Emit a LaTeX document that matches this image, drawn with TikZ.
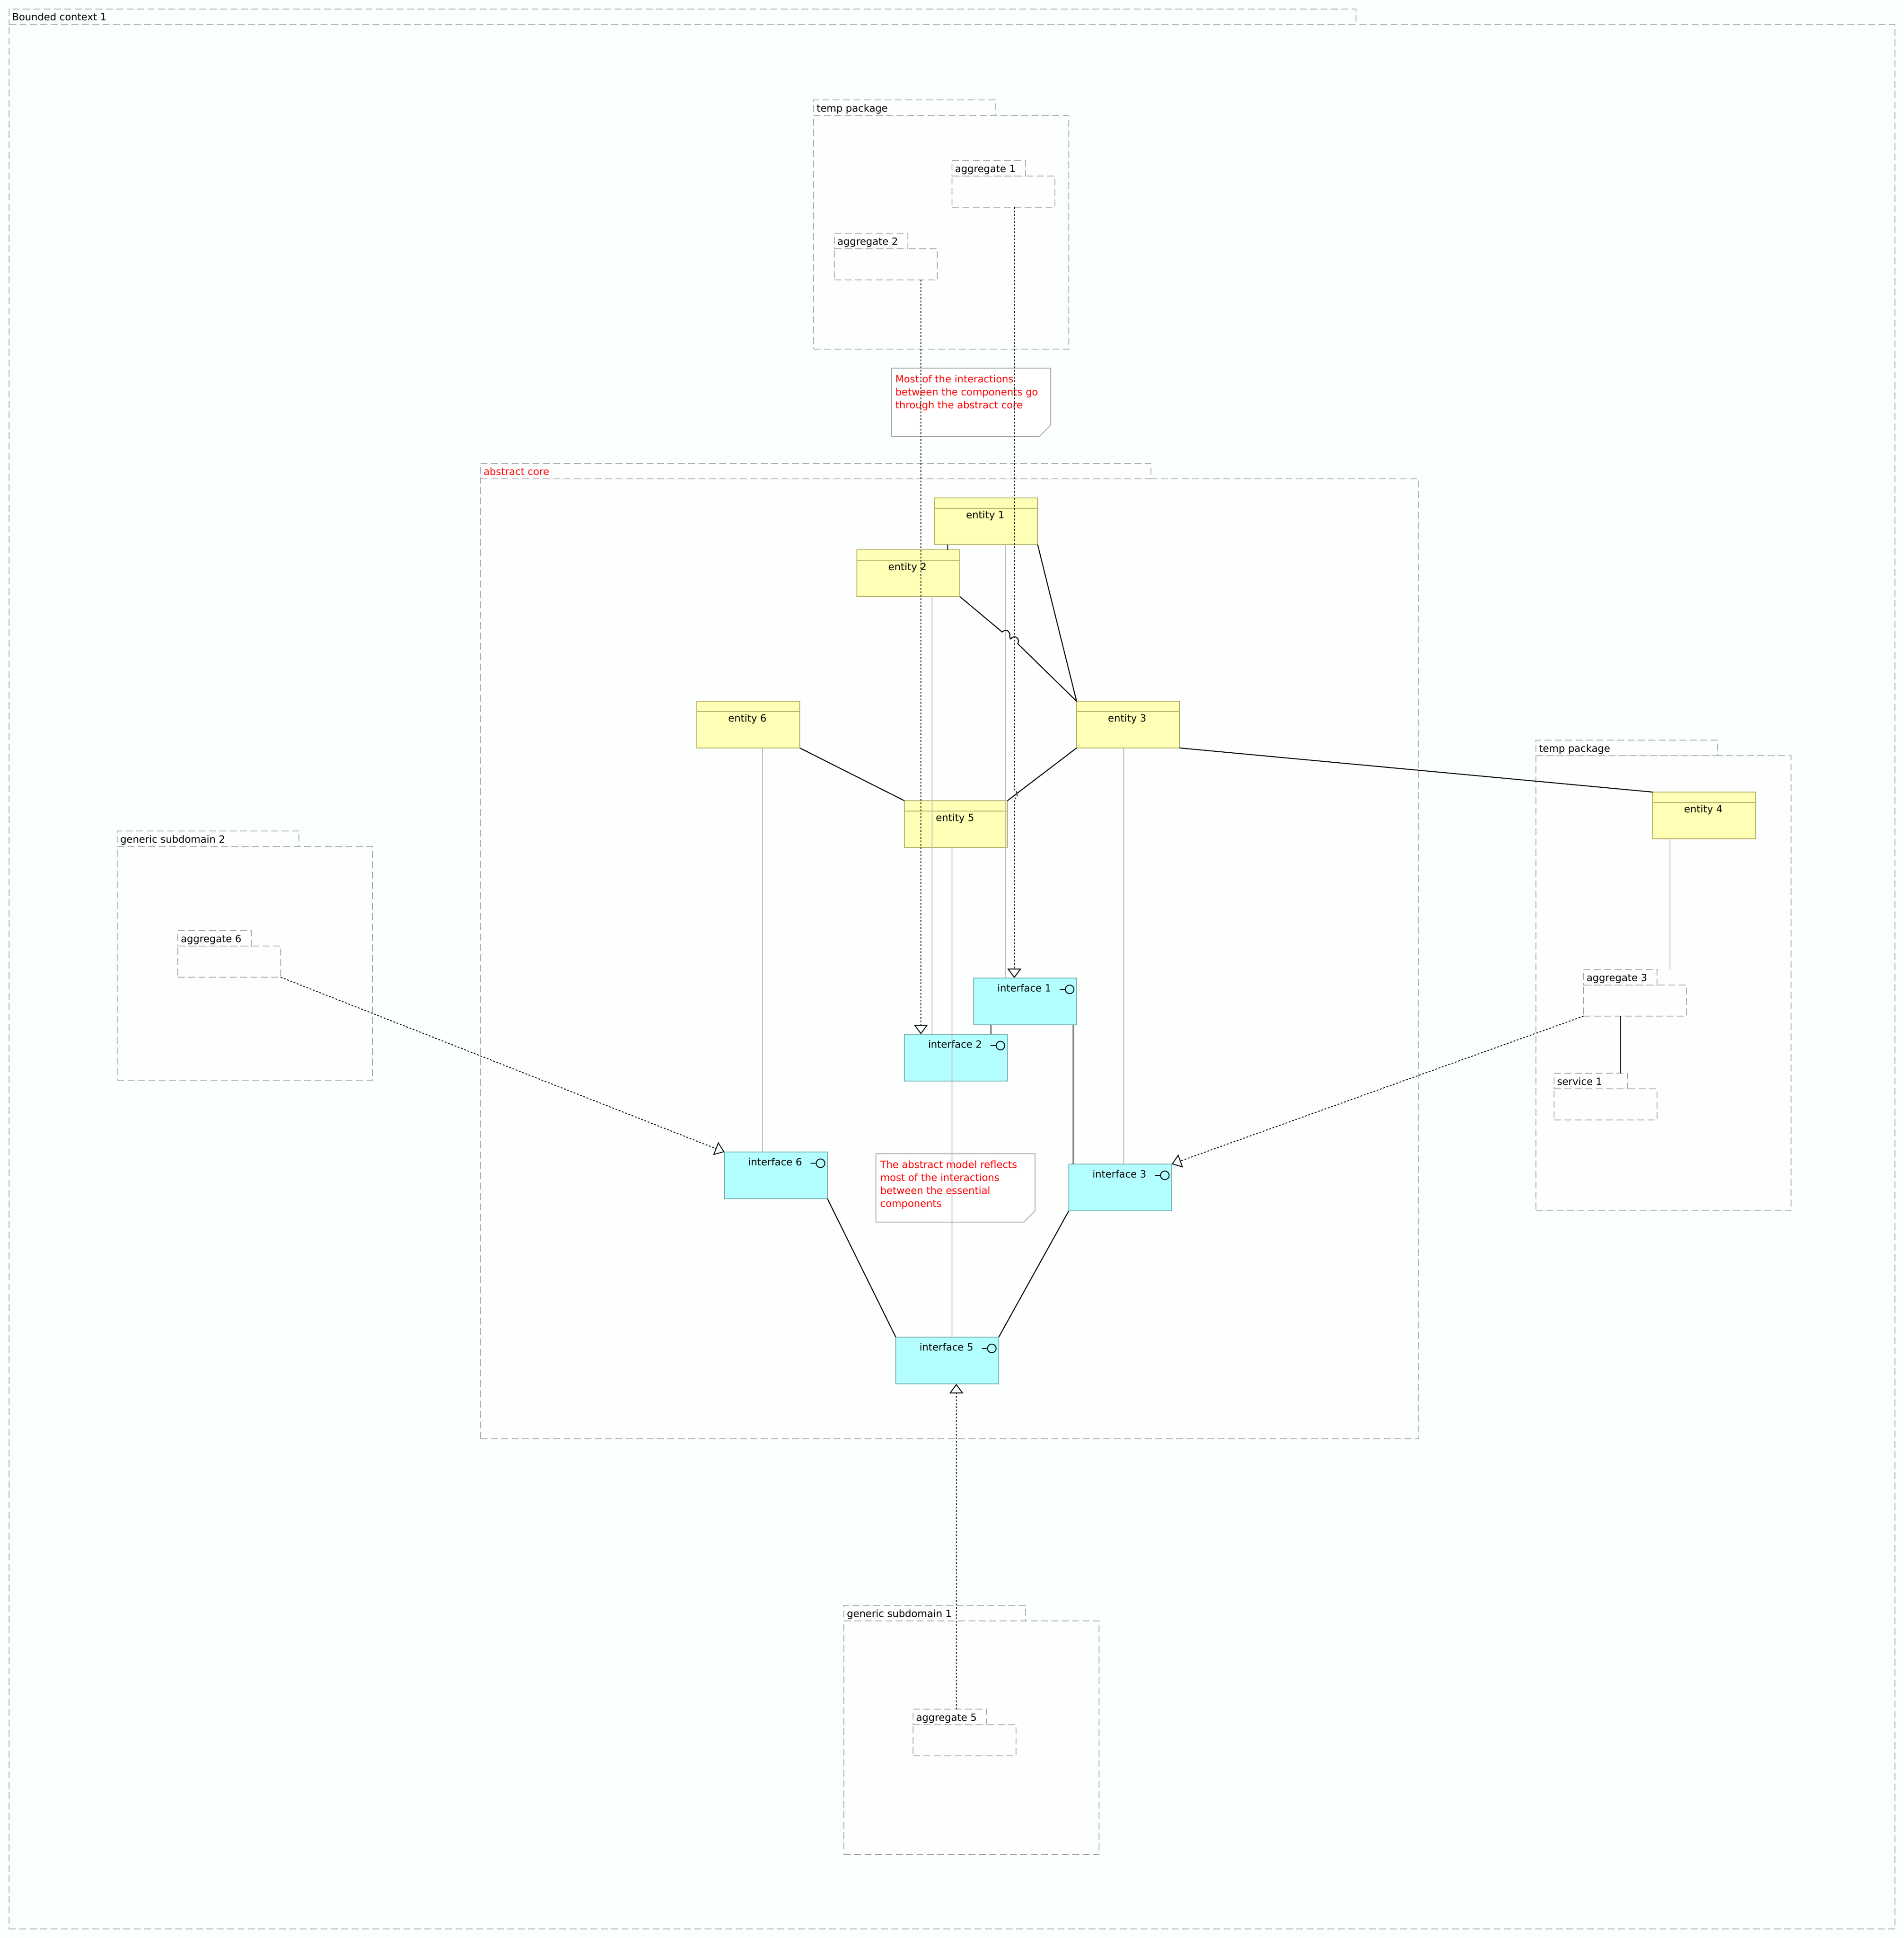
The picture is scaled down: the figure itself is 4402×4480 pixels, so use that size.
\documentclass[tikz,border=0pt]{standalone}
\usepackage{fontspec}
\setmainfont{DejaVu Sans}
\usetikzlibrary{arrows.meta}
\definecolor{pagebg}{HTML}{FBFFFF}
\definecolor{innerbg}{HTML}{FDFFFF}
\definecolor{pkgline}{HTML}{AEAEAE}
\definecolor{glink}{HTML}{BCBCBC}
\definecolor{entfill}{HTML}{FFFFB5}
\definecolor{entline}{HTML}{B3B36B}
\definecolor{iffill}{HTML}{B3FFFF}
\definecolor{ifline}{HTML}{7FB3B3}
\newcommand{\fnt}{\fontsize{23}{30}\selectfont}
\tikzset{
  pkgbox/.style={draw=pkgline,line width=2pt,dash pattern=on 16pt off 8pt,rectangle,anchor=north west,inner sep=0pt,outer sep=0pt},
  lbl/.style={font=\fnt,anchor=base west,inner sep=0pt,outer sep=0pt,text=black},
  clbl/.style={font=\fnt,anchor=base,inner sep=0pt,outer sep=0pt,text=black},
  entbox/.style={draw=entline,fill=entfill,line width=2pt,rectangle,anchor=north west,inner sep=0pt,outer sep=0pt,minimum width=238pt,minimum height=108pt},
  ifbox/.style={draw=ifline,fill=iffill,line width=2pt,rectangle,anchor=north west,inner sep=0pt,outer sep=0pt,minimum width=238pt,minimum height=108pt},
  notebox/.style={draw=pkgline,fill=white,line width=2pt,line join=miter},
  notetxt/.style={font=\fnt,text=red,align=left,anchor=north west,inner sep=0pt,outer sep=0pt},
  solidlink/.style={draw=black,line width=2.2pt},
  greylink/.style={draw=glink,line width=2pt},
  realize/.style={draw=black,line width=2pt,dash pattern=on 4pt off 4pt,-{Triangle[length=22pt,width=32pt,fill=pagebg,line width=2pt]}},
  lolline/.style={draw=black,line width=2pt},
  lolhead/.style={draw=black,line width=2pt,circle,inner sep=0pt,outer sep=0pt,minimum size=20pt},
}
% name, x, y, width, total height, tab width, label, label colour, fill
\newcommand{\pkgdraw}[9]{%
  \node[pkgbox,fill=#9,minimum width=#4 pt,minimum height={#5-36 pt}] (#1) at (#2,#3+36) {};
  \node[pkgbox,fill=#9,minimum width=#6 pt,minimum height=36pt] (#1tab) at (#2,#3) {};
  \node[lbl,text=#8] (#1lbl) at (#2+7,#3+27) {#7};
}
\newcommand{\entdraw}[4]{%
  \node[entbox] (#1) at (#2,#3) {};
  \draw[entline,line width=2pt] ([yshift=-24]#1.north west) -- ([yshift=-24]#1.north east);
  \node[clbl] (#1lbl) at (#2+117,#3+47) {#4};
}
\newcommand{\ifdraw}[4]{%
  \node[ifbox] (#1) at (#2,#3) {};
  \node[clbl] (#1lbl) at (#2+117,#3+31) {#4};
  \node[lolhead] (#1head) at (#2+222,#3+26) {};
  \draw[lolline] (#1head.west) -- ++(-13,0);
}
\begin{document}
\begin{tikzpicture}[x=1pt,y=-1pt]
\useasboundingbox (0,0) rectangle (4402,4480);
\fill[pagebg] (0,0) rectangle (4402,4480);
% packages
\pkgdraw{ctx}{21}{21}{4360}{4438}{3114}{Bounded context 1}{black}{pagebg}
\pkgdraw{tmpa}{1881}{231}{590}{576}{420}{temp package}{black}{innerbg}
\pkgdraw{core}{1111}{1071}{2169}{2255}{1550}{abstract core}{red}{innerbg}
\pkgdraw{tmpb}{3551}{1711}{590}{1088}{420}{temp package}{black}{innerbg}
\pkgdraw{gsb}{271}{1921}{590}{576}{420}{generic subdomain 2}{black}{innerbg}
\pkgdraw{gsa}{1951}{3711}{590}{576}{420}{generic subdomain 1}{black}{innerbg}
\pkgdraw{ag1}{2201}{371}{238}{108}{170}{aggregate 1}{black}{innerbg}
\pkgdraw{ag2}{1929}{539}{238}{108}{170}{aggregate 2}{black}{innerbg}
\pkgdraw{ag3}{3661}{2241}{238}{108}{170}{aggregate 3}{black}{innerbg}
\pkgdraw{ag5}{2111}{3951}{238}{108}{170}{aggregate 5}{black}{innerbg}
\pkgdraw{ag6}{411}{2151}{238}{108}{170}{aggregate 6}{black}{innerbg}
\pkgdraw{sv1}{3593}{2481}{238}{108}{170}{service 1}{black}{innerbg}
% notes
\draw[notebox] (2061,851) -- (2429,851) -- (2429,983) -- (2403,1009) -- (2061,1009) -- cycle;
\node[notetxt] (noteA) at (2070,867.5) {Most of the interactions\\between the components go\\through the abstract core};
\draw[notebox] (2025,2667) -- (2393,2667) -- (2393,2799) -- (2367,2825) -- (2025,2825) -- cycle;
\node[notetxt] (noteB) at (2035,2682.5) {The abstract model reflects\\most of the interactions\\between the essential\\components};
% entities
\entdraw{en1}{2161}{1151}{entity 1}
\entdraw{en2}{1981}{1271}{entity 2}
\entdraw{en3}{2489}{1621}{entity 3}
\entdraw{en4}{3821}{1831}{entity 4}
\entdraw{en5}{2091}{1851}{entity 5}
\entdraw{en6}{1611}{1621}{entity 6}
% interfaces
\ifdraw{if1}{2251}{2261}{interface 1}
\ifdraw{if2}{2091}{2391}{interface 2}
\ifdraw{if3}{2471}{2691}{interface 3}
\ifdraw{if5}{2071}{3091}{interface 5}
\ifdraw{if6}{1675}{2663}{interface 6}
% grey links
\draw[greylink] ([xshift=174]en2.south west) -- ([xshift=64]if2.north west);
\draw[greylink] ([xshift=164]en1.south west) -- ([xshift=74]if1.north west);
\draw[greylink] ([xshift=109]en3.south west) -- ([xshift=127]if3.north west);
\draw[greylink] ([xshift=110]en5.south west) -- ([xshift=130]if5.north west);
\draw[greylink] ([xshift=152]en6.south west) -- ([xshift=88]if6.north west);
\draw[greylink] ([xshift=40]en4.south west) -- ([xshift=200]ag3tab.north west);
% solid links
\draw[solidlink] ([xshift=30]en1.south west) -- ([xshift=210]en2.north west);
\draw[solidlink] (en1.south east) -- (en3.north west);
\draw[solidlink] (en2.south east) -- (2317,1461) .. controls (2323,1455) and (2332,1455) .. (2335,1467) .. controls (2336,1470) and (2332,1472) .. (2337,1477) .. controls (2341,1471) and (2347,1471) .. (2351,1474) .. controls (2355,1478) and (2356,1483) .. (2353,1488) -- (en3.north west);
\draw[solidlink] (en6.south east) -- (en5.north west);
\draw[solidlink] (en3.south west) -- (en5.north east);
\draw[solidlink] (en3.south east) -- (en4.north west);
\draw[solidlink] ([xshift=40]if1.south west) -- ([xshift=200]if2.north west);
\draw[solidlink] ([xshift=230]if1.south west) -- ([xshift=10]if3.north west);
\draw[solidlink] (if6.south east) -- (if5.north west);
\draw[solidlink] (if3.south west) -- (if5.north east);
\draw[solidlink] ([xshift=86]ag3.south west) -- ([xshift=154]sv1tab.north west);
% realizations
\draw[realize] ([xshift=144]ag1.south west) -- (2345,1825) .. controls (2352,1830) and (2356,1840) .. (2345,1848) -- ([xshift=94]if1.north west);
\draw[realize] ([xshift=200]ag2.south west) -- ([xshift=38]if2.north west);
\draw[realize] ([xshift=100]ag5tab.north west) -- ([xshift=140]if5.south west);
\draw[realize] (ag6.south east) -- (if6.north west);
\draw[realize] (ag3.south west) -- (if3.north east);
\end{tikzpicture}
\end{document}
